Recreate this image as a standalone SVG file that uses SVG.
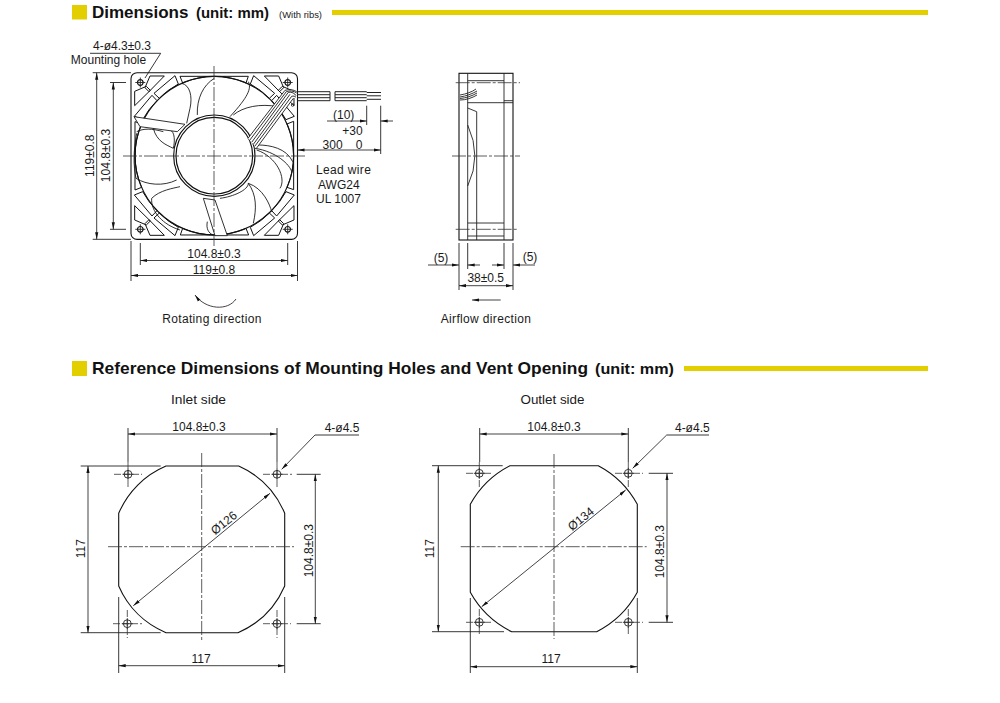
<svg xmlns="http://www.w3.org/2000/svg" width="1000" height="703" viewBox="0 0 1000 703">
<style>
text{font-family:"Liberation Sans",Arial,sans-serif;font-size:12px;fill:#1a1a1a}
.m{text-anchor:middle}
.sp{letter-spacing:.35px}
.h1{font-size:17px;font-weight:bold;fill:#111}
.h2{font-size:14.5px;font-weight:bold;fill:#111}
.bar{fill:#e3cf00}
.l{fill:none;stroke:#222;stroke-width:.9}
.o{fill:none;stroke:#111;stroke-width:1.1}
.c{fill:none;stroke:#333;stroke-width:.8;stroke-dasharray:14 2 3 2}
.d{fill:none;stroke:#222;stroke-width:.85;marker-start:url(#a);marker-end:url(#a)}
.e{fill:none;stroke:#222;stroke-width:.85;marker-end:url(#a)}
.f{fill:none;stroke:#111;stroke-width:3;stroke-linejoin:round}
.g{fill:none;stroke:#111;stroke-width:2.6}
</style>
<defs>
<marker id="a" markerUnits="userSpaceOnUse" markerWidth="8" markerHeight="4" refX="7" refY="2" orient="auto-start-reverse"><path d="M0 .4L7 2L0 3.6Z" fill="#111"/></marker>
<g id="hole"><circle r="3.9" fill="none" stroke="#222" stroke-width=".9"/><path d="M-5.5 0H5.500M0-5.500V5.500" class="l"/></g>
<g id="fanhole"><circle r="2.8" fill="none" stroke="#111" stroke-width="1.2"/><path d="M-5 0H5M0-5V5" class="l"/></g>
<g id="corner">
<path class="f" d="M-193-239H-150L-196-192L-208-204ZM-239-193V-150L-192-196L-204-208Z"/>
<path class="f" d="M-118-240L-108-215A238 238 0 0 0-165-172L-181-187ZM-240-118L-215-108A238 238 0 0 1-172-165L-187-181Z"/>
</g>
<g id="mid"><path class="f" d="M-103-238H102L95-218A238 238 0 0 0-95-218Z"/></g>
</defs>

<g id="header-dimensions">
<rect class="bar" x="72" y="5" width="15" height="14.500"/>
<text class="h1" x="92" y="18">Dimensions</text>
<text class="h2" x="196" y="18" textLength="73" lengthAdjust="spacingAndGlyphs">(unit: mm)</text>
<text x="279" y="18" style="font-size:9px" textLength="43" lengthAdjust="spacingAndGlyphs">(With ribs)</text>
<rect class="bar" x="332" y="10" width="596" height="5"/>
</g>

<g id="fan-front">
<rect class="o" x="131" y="72.700" width="166.500" height="166.700" rx="6"/>
<g transform="translate(120 65) scale(.3333)">
<path class="g" d="M185 55C210 60 218 95 210 130C207 145 203 160 200 175M232 150C230 100 250 60 283 40M385 50C395 70 385 95 330 155M340 150C370 125 420 115 475 125"/>
<path class="g" d="M415 240C450 240 500 250 518 290M405 250C470 260 510 300 515 320M410 255C470 275 500 340 480 370M385 355C430 370 450 420 455 440M385 355C410 390 410 430 400 475"/>
<path class="g" d="M300 400C340 395 385 375 385 355M262 470C258 490 265 505 280 510M95 400C120 375 160 370 180 365M95 400C92 440 130 480 180 495"/>
<path class="g" d="M50 200C70 190 95 190 130 200M150 195C165 200 165 230 160 250M48 340C80 360 130 365 170 345M100 190C110 230 140 240 160 250M50 205C40 260 40 300 48 340"/>
<g transform="translate(283 272)">
<use href="#corner"/><use href="#corner" transform="scale(-1 1)"/><use href="#corner" transform="scale(1 -1)"/><use href="#corner" transform="scale(-1 -1)"/>
<use href="#mid"/><use href="#mid" transform="rotate(90)"/><use href="#mid" transform="rotate(180)"/><use href="#mid" transform="rotate(270)"/>
<circle r="238" fill="none" stroke="#111" stroke-width="3.500"/>
</g>
<path d="M42 155L195 178L172 200L60 185ZM250 400L285 512H322L285 405Z" fill="#fff" stroke="#111" stroke-width="2.600"/>
<g transform="translate(283 272)">
<circle r="122" fill="#fff" stroke="#111" stroke-width="3.500"/>
<circle r="115" fill="#fff" stroke="#111" stroke-width="3.500"/>
</g>
<path d="M384 220L495 76C508 72 522 74 530 80V97L520 100L410 249Z" fill="#fff"/>
<path d="M384 220L495 76C508 72 522 74 530 80M389 226L499 80C510 76 522 78 530 84M395 232L505 82C515 80 525 85 528 92M400 238L510 88M405 243L515 94C520 92 526 94 528 97M410 249L520 100" fill="none" stroke="#111" stroke-width="2.600"/>
<circle cx="518" cy="120" r="4" fill="none" stroke="#111" stroke-width="2.200"/>
</g>
<use href="#fanhole" x="140.300" y="82.500"/><use href="#fanhole" x="287.700" y="82.500"/><use href="#fanhole" x="140.300" y="229.300"/><use href="#fanhole" x="287.700" y="229.300"/>
<path class="c" d="M214 66V246M123 156H306"/>
</g>

<g id="lead-wires">
<path fill="none" stroke="#222" stroke-width="1" d="M297 91.700H330M297 94.700H330M297 97.700H330M297 100.700H330M335 91.700H366.700M335 94.700H366.700M335 97.700H366.700M335 100.700H366.700M330 91.700V100.700M335 91.700V100.700"/>
<path fill="none" stroke="#222" stroke-width="1" d="M366.700 92.500H381M366.700 95.800H381M366.700 99.300H381"/>
</g>

<g id="fan-side">
<rect class="o" x="459" y="73.300" width="54" height="166.700"/>
<path class="l" d="M467.700 73.300V240M504 73.300V240M476.700 111.700V240M467.700 80.700H504M467.700 102.700H504M504 100.700H513M504 102.700H513M467.700 223H504M467.700 108L476.700 111.700M467.700 125Q482 156 467.700 186M467.700 236H504"/>
<path class="l" d="M460 97C466 96 472 94 477 91M460 98.500C466 98 472 96 477 93M460 100C466 100 472 98 477 95M460 95C466 94 472 92 476 89"/>
<path class="c" d="M455.700 82.700H520M452 156H520M455.700 229.300H518"/>
</g>

<g id="connectors">
<path class="l" d="M90 53.300H160.700L145 78M92.700 72.700H131M92.700 239.300H131M110 82.500H126M110 229.300H126M131 241V281M297.500 241V281M140.300 243V265M287.700 243V265M366.700 105.700V125M380.700 105.700V154M459 243V290M513 243V290M467.700 243V269M504 243V269"/>
<path class="d" d="M96.700 72.700V239.300"/>
<path class="d" d="M113.300 82.500V229.300"/>
<path class="d" d="M140.300 260.500H287.700"/>
<path class="d" d="M131 275.500H297.500"/>
<path class="e" d="M327 121H366.700"/><path class="e" d="M393 121H380.700"/>
<path class="d" d="M297.500 150H380.700"/>
<path class="e" d="M428 265H459"/><path class="e" d="M480 265H467.700"/><path class="e" d="M492 265H504"/><path class="e" d="M535 265H513"/>
<path class="d" d="M459 285.700H513"/>
<path class="e" d="M500.700 300H472"/>
<path class="e" d="M236 299C228 311 206 310 195 295"/>
<path class="l" d="M128 428V462M277 428V462M80.700 466H160.700M80.700 632.700H160.700M296.700 474.300H320.700M296.700 623.700H320.700M118.700 597V673M284.700 597V673"/>
<path class="d" d="M128 434H277"/>
<path class="l" d="M359 435H315"/><path class="e" d="M315 435L281.700 469.300"/>
<path class="d" d="M88 466V632.700"/>
<path class="d" d="M315.300 474.300V623.700"/>
<path class="d" d="M118.700 665.700H284.700"/>
<path class="d" d="M270 493.300L133.300 605.700"/>
<path class="l" d="M479.700 428V462M628.300 428V462M432 465.700H502.700M432 631.700H504M648.700 473.300H673M648.700 622.300H673M470.300 598V673M637.300 598V673"/>
<path class="d" d="M479.700 434H628.300"/>
<path class="l" d="M709 435H666.700"/><path class="e" d="M666.700 435L632.700 468.300"/>
<path class="d" d="M438.300 465.700V631.700"/>
<path class="d" d="M667 473.300V622.300"/>
<path class="d" d="M470.300 666.700H637.300"/>
<path class="d" d="M625.700 490L481.700 606.700"/>
</g>

<g id="labels-top">
<text class="m" x="122" y="50">4-ø4.3±0.3</text>
<text class="m" x="108.500" y="64.300">Mounting hole</text>
<text transform="translate(94 155.700) rotate(-90)" class="m">119±0.8</text>
<text transform="translate(110 155.500) rotate(-90)" class="m">104.8±0.3</text>
<text class="m" x="214" y="258">104.8±0.3</text>
<text class="m" x="214" y="274">119±0.8</text>
<text class="m" x="343.700" y="118.500">(10)</text>
<text class="m" x="352.500" y="135.300">+30</text>
<text class="m" x="332.600" y="148.800">300</text>
<text class="m" x="359" y="148.800">0</text>
<text class="sp" x="316" y="173.500">Lead wire</text>
<text x="318" y="189">AWG24</text>
<text x="316" y="202.700">UL 1007</text>
<text class="m" x="441" y="262">(5)</text>
<text class="m" x="530" y="261">(5)</text>
<text class="m" x="485.700" y="282">38±0.5</text>
<text class="m sp" x="212" y="323">Rotating direction</text>
<text class="m sp" x="486" y="323">Airflow direction</text>
</g>

<g id="header-reference">
<rect class="bar" x="72" y="361" width="15" height="15"/>
<text class="h1" x="92" y="374" textLength="496" lengthAdjust="spacingAndGlyphs">Reference Dimensions of Mounting Holes and Vent Opening</text>
<text class="h2" x="595" y="374" textLength="79" lengthAdjust="spacingAndGlyphs">(unit: mm)</text>
<rect class="bar" x="684" y="366" width="244" height="5"/>
</g>

<g id="inlet">
<text class="m" x="198.500" y="404" textLength="55" lengthAdjust="spacingAndGlyphs" style="font-size:13px">Inlet side</text>
<path class="o" d="M166 466H238.700A89 89 0 0 1 284.700 513.300V586A89 89 0 0 1 238 632.700H166A89 89 0 0 1 118.700 586V513.300A89 89 0 0 1 166 466Z"/>
<path class="c" d="M201.700 453V640M108 546.700H294"/>
<use href="#hole" x="128" y="474.300"/><use href="#hole" x="277" y="474.300"/><use href="#hole" x="127.300" y="623.700"/><use href="#hole" x="277" y="623.700"/>
<path class="c" style="stroke-dasharray:7 2" d="M114 474.300H142M263 474.300H292M113 623.700H142M263 623.700H291M128 462V488M277 462V488M127.300 610V638M277 610V638"/>
<text class="m" x="199" y="430.700">104.8±0.3</text>
<text class="m" x="342" y="431.700">4-ø4.5</text>
<text class="m" transform="translate(85.300 548.700) rotate(-90)">117</text>
<text class="m" transform="translate(313 550.700) rotate(-90)">104.8±0.3</text>
<text class="m" x="201" y="662.700">117</text>
<text class="m" transform="translate(226.500 526) rotate(-39)">Ø126</text>
</g>

<g id="outlet">
<text class="m" x="552.500" y="404" textLength="64" lengthAdjust="spacingAndGlyphs" style="font-size:13px">Outlet side</text>
<path class="o" d="M510 465.700H598.300A95 95 0 0 1 637.300 504.300V592.300A95 95 0 0 1 596.700 631.700H511.700A95 95 0 0 1 470.300 592.300V504.300A95 95 0 0 1 510 465.700Z"/>
<path class="c" d="M554 454V639M460.700 546.700H646.700"/>
<use href="#hole" x="479.300" y="473.300"/><use href="#hole" x="628.300" y="473.300"/><use href="#hole" x="479.300" y="622.300"/><use href="#hole" x="628.300" y="622.300"/>
<path class="c" style="stroke-dasharray:7 2" d="M466 473.300H493M615 473.300H643M466 622.300H493M615 622.300H643M479.300 462V487M628.300 462V487M479.300 609V636M628.300 609V636"/>
<text class="m" x="554" y="430.700">104.8±0.3</text>
<text class="m" x="692.300" y="431.700">4-ø4.5</text>
<text class="m" transform="translate(434 548.700) rotate(-90)">117</text>
<text class="m" transform="translate(664 551.700) rotate(-90)">104.8±0.3</text>
<text class="m" x="551" y="663">117</text>
<text class="m" transform="translate(583.500 522) rotate(-39)">Ø134</text>
</g>
</svg>
